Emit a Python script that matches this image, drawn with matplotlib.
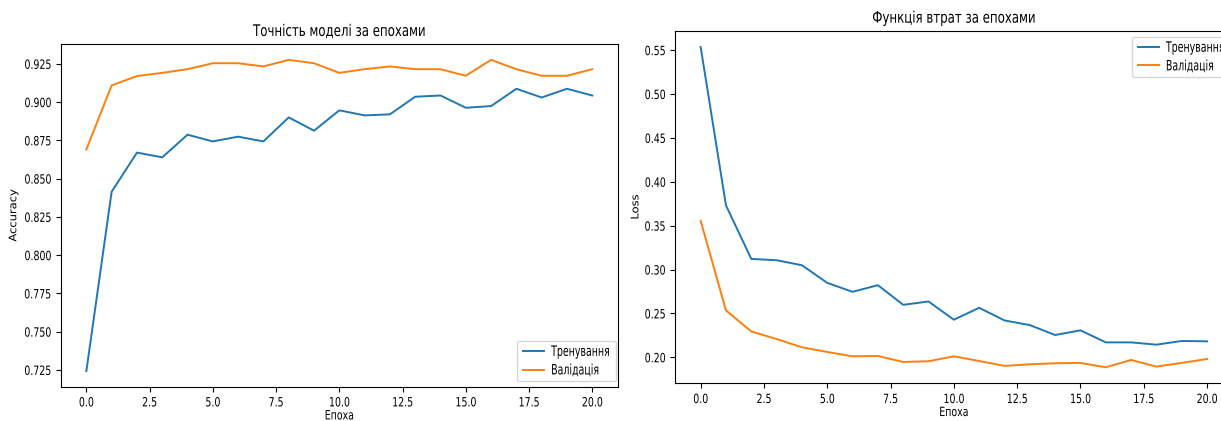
import matplotlib
matplotlib.use("Agg")
import matplotlib.pyplot as plt
from matplotlib import font_manager as fm
from matplotlib import patheffects
from matplotlib.transforms import Affine2D
from matplotlib.textpath import TextToPath
import numpy as np

epochs = np.arange(21)

acc_train = [0.7242, 0.8414, 0.8670, 0.8639, 0.8787, 0.8743, 0.8774, 0.8743,
             0.8900, 0.8813, 0.8946, 0.8913, 0.8920, 0.9035, 0.9043, 0.8963,
             0.8974, 0.9087, 0.9030, 0.9087, 0.9043]
acc_val = [0.8690, 0.9109, 0.9170, 0.9191, 0.9215, 0.9254, 0.9254, 0.9233,
           0.9276, 0.9254, 0.9191, 0.9215, 0.9233, 0.9215, 0.9215, 0.9172,
           0.9276, 0.9215, 0.9172, 0.9172, 0.9215]

loss_train = [0.5535, 0.3731, 0.3121, 0.3106, 0.3049, 0.2848, 0.2746, 0.2822,
              0.2598, 0.2636, 0.2428, 0.2564, 0.2420, 0.2367, 0.2254, 0.2307,
              0.2170, 0.2170, 0.2144, 0.2186, 0.2182]
loss_val = [0.3555, 0.2534, 0.2295, 0.2208, 0.2114, 0.2061, 0.2011, 0.2015,
            0.1947, 0.1955, 0.2011, 0.1958, 0.1902, 0.1920, 0.1932, 0.1936,
            0.1886, 0.1970, 0.1894, 0.1936, 0.1981]

# шрифт: DejaVu Sans, по можливості вузька версія
family = 'DejaVu Sans'
stretch = 'normal'
for f in fm.fontManager.ttflist:
    if f.name == 'DejaVu Sans' and f.stretch == 'condensed' and f.style == 'normal' \
            and f.weight in (400, 'normal', 'regular', 'book'):
        stretch = 'condensed'
        break
plt.rcParams['font.family'] = [family]
plt.rcParams['font.stretch'] = stretch

# текст стиснутий по горизонталі відносно звичайного DejaVu Sans
SX = 0.82
sample = 'Тренування 0.925 Епоха'
t2p = TextToPath()
w_norm = t2p.get_text_width_height_descent(
    sample, fm.FontProperties(family='DejaVu Sans', size=10), ismath=False)[0]
w_used = t2p.get_text_width_height_descent(
    sample, fm.FontProperties(family=family, stretch=stretch, size=10), ismath=False)[0]
sx = SX * w_norm / w_used


class Squeeze(patheffects.AbstractPathEffect):
    def __init__(self, sx, sy=1.0, anchor='center'):
        super().__init__()
        self.sx = sx
        self.sy = sy
        self.anchor = anchor

    def draw_path(self, renderer, gc, tpath, affine, rgbFace=None):
        ext = tpath.get_extents(affine)
        if self.anchor == 'left':
            x0 = ext.x0
        elif self.anchor == 'right':
            x0 = ext.x1
        else:
            x0 = 0.5 * (ext.x0 + ext.x1)
        y0 = 0.5 * (ext.y0 + ext.y1)
        tr = affine + Affine2D().translate(-x0, -y0).scale(self.sx, self.sy).translate(x0, y0)
        renderer.draw_path(gc, tpath, tr, rgbFace)


def squeeze(texts, kx=None, ky=1.0):
    for t in texts:
        t.set_path_effects([Squeeze(sx if kx is None else kx, ky,
                                    t.get_horizontalalignment())])


FS = 9.2
TFS = 11.5
# легенда: менший кегль (ширина вже потрібна), висота дотягується ефектом
LFS = 9.2 * sx
lpx = LFS * 100 / 72
leg_kw = dict(fontsize=LFS, handlelength=21 / lpx, handletextpad=7.4 / lpx,
              borderpad=0.55, labelspacing=0.8, borderaxespad=0)

fig = plt.figure(figsize=(12.21, 4.21), dpi=100)

# точність
ax1 = fig.add_axes([0.0500, 0.0815, 0.4558, 0.8133])
ax1.plot(epochs, acc_train, lw=1.4, label='Тренування')
ax1.plot(epochs, acc_val, lw=1.4, label='Валідація')
ax1.set_title('Точність моделі за епохами', fontsize=TFS)
ax1.set_xlabel('Епоха', fontsize=FS, labelpad=0)
ax1.set_ylabel('Accuracy', fontsize=FS, labelpad=-1)
ax1.tick_params(labelsize=FS)
leg1 = ax1.legend(loc='lower right', bbox_to_anchor=(0.997, 0.0166), **leg_kw)

# втрати
ax2 = fig.add_axes([0.5531, 0.0895, 0.4562, 0.8368])
ax2.plot(epochs, loss_train, lw=1.4, label='Тренування')
ax2.plot(epochs, loss_val, lw=1.4, label='Валідація')
ax2.set_title('Функція втрат за епохами', fontsize=TFS)
ax2.set_xlabel('Епоха', fontsize=FS, labelpad=0)
ax2.set_ylabel('Loss', fontsize=FS, labelpad=-1.5)
ax2.tick_params(labelsize=FS)
leg2 = ax2.legend(loc='upper right', bbox_to_anchor=(0.997, 0.983), **leg_kw)

fig.canvas.draw()
for ax, leg in ((ax1, leg1), (ax2, leg2)):
    squeeze(ax.get_xticklabels() + ax.get_yticklabels())
    squeeze([ax.title, ax.xaxis.label, ax.yaxis.label])
    squeeze(leg.get_texts(), kx=1.0, ky=1.12 / sx)

fig.savefig('out.png', dpi=100)
